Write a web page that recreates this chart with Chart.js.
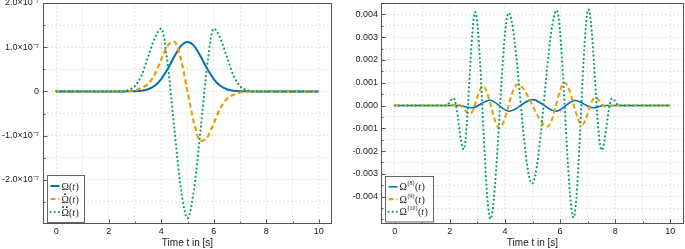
<!DOCTYPE html>
<html>
<head>
<meta charset="utf-8">
<script src="https://cdn.jsdelivr.net/npm/chart.js@4.4.1/dist/chart.umd.min.js"></script>
<style>
  html, body { margin: 0; padding: 0; background: #fff; }
  #wrap { position: relative; width: 685px; height: 249px; }
  .panel { position: absolute; top: 0; height: 249px; }
</style>
</head>
<body>
<div id="wrap">
  <div class="panel" style="left:0;width:340px"><canvas id="left" width="340" height="249"></canvas></div>
  <div class="panel" style="left:340px;width:345px"><canvas id="right" width="345" height="249"></canvas></div>
</div>
<script>
// ---- data ----
// left panel, values in units of 1e-7
const T_LEFT = [0, 2.5, 2.75, 3, 3.25, 3.5, 3.75, 4, 4.25, 4.5, 4.75, 5, 5.25, 5.5, 5.75, 6, 6.25, 6.5, 6.75, 7, 7.25, 7.5, 10];
const OMEGA = [0, 0, 0.001, 0.004, 0.016, 0.049, 0.128, 0.28, 0.51, 0.79, 1.03, 1.12, 1.03, 0.79, 0.51, 0.28, 0.128, 0.049, 0.016, 0.004, 0.001, 0, 0];
const OMEGA_DOT = [0, 0, 0.006, 0.024, 0.077, 0.17, 0.38, 0.72, 1.04, 1.12, 0.72, 0, -0.72, -1.12, -1.04, -0.72, -0.38, -0.17, -0.077, -0.024, -0.006, 0, 0];
const OMEGA_DDOT = [0, 0, 0.03, 0.12, 0.36, 0.78, 1.2, 1.42, 0.6, -0.85, -2.2, -2.87, -2.2, -0.85, 0.6, 1.42, 1.2, 0.78, 0.36, 0.12, 0.03, 0, 0];

// right panel: higher derivatives (turning points)
const T_D8 = [0, 2.3, 2.8, 3.45, 4.15, 5.0, 5.85, 6.55, 7.2, 7.6, 10];
const OMEGA_D8 = [0, 0, -0.0001, 0.00023, -0.00025, 0.00026, -0.00025, 0.00022, -0.0001, 0, 0];
const T_D9 = [0, 2.0, 2.3, 2.73, 3.2, 3.8, 4.45, 5.55, 6.17, 6.8, 7.27, 7.65, 7.95, 10];
const OMEGA_D9 = [0, 0, 0.00005, -0.00037, 0.00085, -0.00098, 0.00092, -0.00092, 0.001, -0.00085, 0.00036, -0.00005, 0, 0];
const T_D10 = [0, 1.85, 2.14, 2.5, 2.92, 3.47, 4.13, 4.98, 5.88, 6.49, 7.03, 7.51, 7.88, 8.15, 10];
const OMEGA_D10 = [0, 0, 0.00032, -0.00192, 0.0041, -0.00498, 0.00407, -0.00343, 0.00418, -0.00492, 0.00422, -0.00196, 0.00031, 0, 0];

// ticks
const X_TICKS = [0, 1, 2, 3, 4, 5, 6, 7, 8, 9, 10];
const X_LABELS = ['0', '', '2', '', '4', '', '6', '', '8', '', '10'];
const LEFT_Y_MAJOR = [-2, -1, 0, 1, 2];
const LEFT_Y_LABELS = ['-2.0×10⁻⁷', '-1.0×10⁻⁷', '0', '1.0×10⁻⁷', '2.0×10⁻⁷'];
const RIGHT_Y_MAJOR = [-0.004, -0.003, -0.002, -0.001, 0, 0.001, 0.002, 0.003, 0.004];
const RIGHT_Y_LABELS = ['-0.004', '-0.003', '-0.002', '-0.001', '0.000', '0.001', '0.002', '0.003', '0.004'];

const BLUE = '#0072B2';
const ORANGE = '#E69F00';
const GREEN = '#009E73';
const FRAME = '#555';
const SANS = '"Liberation Sans", Arial, sans-serif';
const SERIF = '"Liberation Serif", "DejaVu Serif", serif';

function pts(ts, ys) {
  return ts.map((t, i) => ({ x: t, y: ys[i] }));
}

function labelFor(majors, labels, v) {
  const i = majors.findIndex(m => Math.abs(m - v) < Math.abs(majors[1] - majors[0]) * 1e-6);
  return i >= 0 ? labels[i] : '';
}

// frame, inward tick marks and the boxed legend
const framePlugin = {
  id: 'frameLegend',
  afterDraw(chart) {
    const { ctx, chartArea: ca } = chart;
    const xs = chart.scales.x, ys = chart.scales.y;
    const l = Math.round(ca.left) + 0.5, r = Math.round(ca.right) - 0.5;
    const t = Math.round(ca.top) + 0.5, b = Math.round(ca.bottom) - 0.5;
    ctx.save();
    ctx.strokeStyle = FRAME;
    ctx.lineWidth = 1;
    ctx.setLineDash([]);
    ctx.strokeRect(l, t, r - l, b - t);

    ctx.beginPath();
    xs.ticks.forEach(tk => {
      const px = Math.round(xs.getPixelForValue(tk.value)) + 0.5;
      const len = tk.label ? 4 : 2;
      ctx.moveTo(px, b);
      ctx.lineTo(px, b - len);
    });
    ys.ticks.forEach(tk => {
      const py = Math.round(ys.getPixelForValue(tk.value)) + 0.5;
      const len = tk.label ? 4 : 2;
      ctx.moveTo(l, py);
      ctx.lineTo(l + len, py);
    });
    ctx.stroke();

    // legend
    const opts = chart.options.plugins.frameLegend;
    const n = opts.entries.length;
    const bh = opts.rowH * n + 8;
    const bx = Math.round(ca.left + opts.dx) + 0.5;
    const by = Math.round(ca.bottom - opts.dy - bh) + 0.5;
    ctx.fillStyle = '#fff';
    ctx.fillRect(bx, by, opts.width, bh);
    ctx.strokeStyle = '#666';
    ctx.strokeRect(bx, by, opts.width, bh);

    opts.entries.forEach((en, i) => {
      const ds = chart.data.datasets[i];
      const ry = by + 4 + opts.rowH * (i + 0.5);
      ctx.save();
      ctx.strokeStyle = ds.borderColor;
      ctx.lineWidth = ds.borderWidth;
      ctx.lineCap = ds.borderCapStyle || 'butt';
      ctx.setLineDash(ds.borderDash || []);
      ctx.beginPath();
      ctx.moveTo(bx + 3, ry);
      ctx.lineTo(bx + 12, ry);
      ctx.stroke();
      ctx.restore();

      ctx.fillStyle = '#222';
      ctx.textBaseline = 'middle';
      ctx.textAlign = 'left';
      let tx = bx + 14;
      ctx.font = '10px ' + SERIF;
      ctx.fillText(en.base, tx, ry + 1);
      const bw = ctx.measureText(en.base).width;
      if (en.accent) {
        // time-derivative dots above the symbol
        ctx.textAlign = 'center';
        ctx.font = 'bold 11px ' + SANS;
        ctx.fillText(en.accent, tx + bw / 2, ry - 4.5);
        ctx.textAlign = 'left';
      }
      tx += bw;
      if (en.sup) {
        ctx.font = '6px ' + SERIF;
        ctx.fillText(en.sup, tx + 0.5, ry - 3);
        tx += ctx.measureText(en.sup).width + 1;
      }
      ctx.font = '10px ' + SERIF;
      ctx.fillText('(', tx, ry + 1);
      tx += ctx.measureText('(').width;
      ctx.font = 'italic 10px ' + SERIF;
      ctx.fillText('t', tx, ry + 1);
      tx += ctx.measureText('t').width + 0.5;
      ctx.font = '10px ' + SERIF;
      ctx.fillText(')', tx, ry + 1);
    });
    ctx.restore();
  }
};

function xScale() {
  return {
    type: 'linear',
    min: -0.5,
    max: 10.5,
    afterBuildTicks: s => { s.ticks = X_TICKS.map(v => ({ value: v })); },
    afterFit: s => { s.height = 25; s.paddingLeft = 0; s.paddingRight = 0; },
    ticks: {
      autoSkip: false,
      maxRotation: 0,
      padding: 3,
      color: '#222',
      font: { family: SANS, size: 9, lineHeight: 1 },
      callback: (v, i) => X_LABELS[i]
    },
    grid: { color: 'rgba(0,0,0,0.1)', drawTicks: false, lineWidth: 1 },
    border: { display: false, dash: [2, 2] },
    title: {
      display: true,
      text: 'Time t in [s]',
      color: '#222',
      font: { family: SANS, size: 10 },
      padding: { top: 0, bottom: 0 }
    }
  };
}

function yScale(min, max, grid, majors, labels, width, pad) {
  return {
    type: 'linear',
    min: min,
    max: max,
    afterBuildTicks: s => { s.ticks = grid.map(v => ({ value: v })); },
    afterFit: s => { s.width = width; s.paddingTop = 0; s.paddingBottom = 0; },
    ticks: {
      autoSkip: false,
      padding: pad,
      color: '#222',
      font: { family: SANS, size: 9 },
      callback: v => labelFor(majors, labels, v)
    },
    grid: { color: 'rgba(0,0,0,0.1)', drawTicks: false, lineWidth: 1 },
    border: { display: false, dash: [2, 2] }
  };
}

function lineSets(series, widths) {
  return [
    { data: series[0], borderColor: BLUE, borderWidth: widths[0], order: 3 },
    { data: series[1], borderColor: ORANGE, borderWidth: widths[1], borderDash: [5, 3], order: 2 },
    { data: series[2], borderColor: GREEN, borderWidth: widths[2], borderDash: [0.01, 4.2], borderCapStyle: 'round', order: 1 }
  ];
}

function baseOptions(scales, padding, legend) {
  return {
    responsive: false,
    animation: false,
    events: [],
    layout: { padding: padding },
    elements: {
      point: { radius: 0 },
      line: { cubicInterpolationMode: 'monotone', fill: false }
    },
    scales: scales,
    plugins: {
      legend: { display: false },
      tooltip: { enabled: false },
      frameLegend: legend
    }
  };
}

// left panel: pulse and its first two derivatives
const leftGrid = [];
for (let k = -5; k <= 4; k++) leftGrid.push(k * 0.5);
new Chart(document.getElementById('left'), {
  type: 'line',
  data: {
    datasets: lineSets([pts(T_LEFT, OMEGA), pts(T_LEFT, OMEGA_DOT), pts(T_LEFT, OMEGA_DDOT)], [2, 2.2, 2.2])
  },
  options: baseOptions(
    { x: xScale(), y: yScale(-3, 2, leftGrid, LEFT_Y_MAJOR, LEFT_Y_LABELS, 43, 4) },
    { top: 3, right: 8, bottom: 0, left: 0 },
    { dx: 4, dy: 2.5, width: 37, rowH: 13,
      entries: [{ base: 'Ω' }, { base: 'Ω', accent: '·' }, { base: 'Ω', accent: '··' }] }
  ),
  plugins: [framePlugin]
});

// right panel: 8th to 10th derivatives
const rightGrid = [];
for (let k = -10; k <= 9; k++) rightGrid.push(k * 0.0005);
new Chart(document.getElementById('right'), {
  type: 'line',
  data: {
    datasets: lineSets([pts(T_D8, OMEGA_D8), pts(T_D9, OMEGA_D9), pts(T_D10, OMEGA_D10)], [1.6, 2, 2.2])
  },
  options: baseOptions(
    { x: xScale(), y: yScale(-0.0052, 0.0045, rightGrid, RIGHT_Y_MAJOR, RIGHT_Y_LABELS, 41, 3) },
    { top: 3, right: 1, bottom: 0, left: 0 },
    { dx: 3.5, dy: 2.5, width: 48, rowH: 12.5,
      entries: [{ base: 'Ω', sup: '(8)' }, { base: 'Ω', sup: '(9)' }, { base: 'Ω', sup: '(10)' }] }
  ),
  plugins: [framePlugin]
});
</script>
</body>
</html>
